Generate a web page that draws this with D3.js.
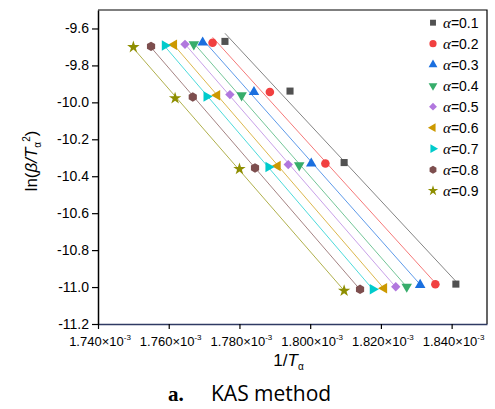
<!DOCTYPE html>
<html>
<head>
<meta charset="utf-8">
<script src="https://cdn.jsdelivr.net/npm/d3@7"></script>
<style>
  body { margin: 0; background: #fff; }
  svg { display: block; }
</style>
</head>
<body>
<svg id="chart"></svg>
<script>
// conversion degree labels and colors (Origin "Colorful" palette)
const alphas = ["0.1", "0.2", "0.3", "0.4", "0.5", "0.6", "0.7", "0.8", "0.9"];
const colors = ["#515151", "#F14040", "#1A6FDF", "#37AD6B", "#B177DE", "#CC9900", "#00CBCC", "#7D4E4E", "#8E8E00"];

// 1/T_alpha values, in units of 1e-3 (one array per alpha)
const invT01 = [1.7759, 1.7943, 1.8096, 1.8412];
const invT02 = [1.7724, 1.7886, 1.8043, 1.8354];
const invT03 = [1.7696, 1.7841, 1.8003, 1.8311];
const invT04 = [1.7671, 1.7806, 1.7969, 1.8273];
const invT05 = [1.7646, 1.7773, 1.7938, 1.8242];
const invT06 = [1.7615, 1.7737, 1.7908, 1.8209];
const invT07 = [1.7589, 1.7707, 1.7882, 1.8177];
const invT08 = [1.7550, 1.7668, 1.7844, 1.8141];
const invT09 = [1.7500, 1.7618, 1.7800, 1.8096];

// ln(beta/T_alpha^2)
const ln01 = [-9.670, -9.939, -10.326, -10.984];
const ln02 = [-9.677, -9.944, -10.331, -10.985];
const ln03 = [-9.676, -9.944, -10.331, -10.988];
const ln04 = [-9.686, -9.962, -10.341, -10.998];
const ln05 = [-9.686, -9.958, -10.337, -10.998];
const ln06 = [-9.688, -9.962, -10.344, -11.007];
const ln07 = [-9.692, -9.968, -10.350, -11.012];
const ln08 = [-9.697, -9.971, -10.355, -11.012];
const ln09 = [-9.701, -9.978, -10.361, -11.020];

const xTicks = [1.740, 1.760, 1.780, 1.800, 1.820, 1.840];
const yTicks = [-11.2, -11.0, -10.8, -10.6, -10.4, -10.2, -10.0, -9.8, -9.6];

const invTs = [invT01, invT02, invT03, invT04, invT05, invT06, invT07, invT08, invT09];
const lns = [ln01, ln02, ln03, ln04, ln05, ln06, ln07, ln08, ln09];

const width = 495, height = 409;
const margin = { top: 10, right: 8, bottom: 85, left: 98 };
const svg = d3.select("#chart").attr("width", width).attr("height", height);

const x = d3.scaleLinear().domain([1.740, 1.850]).range([margin.left, width - margin.right]);
const y = d3.scaleLinear().domain([-11.2, -9.5]).range([height - margin.bottom, margin.top]);

const font = "Liberation Sans, Arial, sans-serif";

// hexagon symbol (d3 has none)
const symbolHexagon = {
  draw(ctx, size) {
    const r = Math.sqrt(size / (1.5 * Math.sqrt(3)));
    for (let k = 0; k < 6; k++) {
      const a = Math.PI / 6 + k * Math.PI / 3;
      k === 0 ? ctx.moveTo(r * Math.cos(a), r * Math.sin(a)) : ctx.lineTo(r * Math.cos(a), r * Math.sin(a));
    }
    ctx.closePath();
  }
};
const shapes = [
  { type: d3.symbolSquare, size: 50, rot: 0 },
  { type: d3.symbolCircle, size: 58, rot: 0 },
  { type: d3.symbolTriangle, size: 48, rot: 0 },
  { type: d3.symbolTriangle, size: 48, rot: 180 },
  { type: d3.symbolSquare, size: 44, rot: 45 },
  { type: d3.symbolTriangle, size: 48, rot: -90 },
  { type: d3.symbolTriangle, size: 48, rot: 90 },
  { type: symbolHexagon, size: 58, rot: 0 },
  { type: d3.symbolStar, size: 48, rot: 0 }
];

// frame (top & right)
svg.append("path")
  .attr("d", `M${margin.left},${margin.top}H${width - margin.right}V${height - margin.bottom}`)
  .attr("fill", "none").attr("stroke", "#000").attr("stroke-width", 1.2);

// linear fit lines over each series' x range
invTs.forEach((xs, i) => {
  const ys = lns[i];
  const mx = d3.mean(xs), my = d3.mean(ys);
  const slope = d3.sum(xs, (v, k) => (v - mx) * (ys[k] - my)) / d3.sum(xs, v => (v - mx) ** 2);
  const ends = d3.extent(xs);
  svg.append("line")
    .attr("x1", x(ends[0])).attr("y1", y(my + slope * (ends[0] - mx)))
    .attr("x2", x(ends[1])).attr("y2", y(my + slope * (ends[1] - mx)))
    .attr("stroke", colors[i]).attr("stroke-opacity", 0.7).attr("stroke-width", 1);
});

// markers
invTs.forEach((xs, i) => {
  const s = shapes[i];
  svg.append("g").selectAll("path")
    .data(xs.map((v, k) => [v, lns[i][k]]))
    .join("path")
    .attr("d", d3.symbol(s.type, s.size))
    .attr("transform", d => `translate(${x(d[0])},${y(d[1])}) rotate(${s.rot})`)
    .attr("fill", colors[i]);
});

// x axis
const xAxis = svg.append("g").attr("transform", `translate(0,${height - margin.bottom})`);
xAxis.call(d3.axisBottom(x).tickValues(d3.range(1.74, 1.8501, 0.01)).tickSize(3).tickSizeOuter(0).tickFormat(""));
xAxis.call(d3.axisBottom(x).tickValues(xTicks).tickSize(5).tickSizeOuter(0).tickFormat(""));
xAxis.selectAll(".domain").attr("stroke", "#2f3a63").attr("stroke-width", 1.5);
xAxis.selectAll(".tick line").attr("stroke", "#000").attr("stroke-width", 1.2);
svg.append("g").selectAll("text").data(xTicks).join("text")
  .attr("x", d => x(d) + 2).attr("y", height - margin.bottom + 22)
  .attr("text-anchor", "middle").attr("font-family", font).attr("font-size", 13)
  .each(function (d) {
    const t = d3.select(this);
    t.append("tspan").text(d.toFixed(3) + "\u00d710");
    t.append("tspan").attr("dy", -6).attr("font-size", 8).text("-3");
  });

// y axis
const yAxis = svg.append("g").attr("transform", `translate(${margin.left},0)`);
yAxis.call(d3.axisLeft(y).tickValues(d3.range(-11.1, -9.55, 0.2)).tickSize(3).tickSizeOuter(0).tickFormat(""));
yAxis.call(d3.axisLeft(y).tickValues(yTicks).tickSize(6).tickSizeOuter(0).tickFormat(d => d.toFixed(1)));
yAxis.selectAll(".domain").attr("stroke", "#000").attr("stroke-width", 1.5);
yAxis.selectAll(".tick line").attr("stroke", "#000").attr("stroke-width", 1.2);
yAxis.selectAll(".tick text").attr("font-family", font).attr("font-size", 14).attr("fill", "#000").attr("x", -9);

// axis titles
const xt = svg.append("text")
  .attr("x", (margin.left + width - margin.right) / 2 - 4).attr("y", height - margin.bottom + 42)
  .attr("text-anchor", "middle").attr("font-family", font).attr("font-size", 17);
xt.append("tspan").text("1/");
xt.append("tspan").attr("font-style", "italic").text("T");
xt.append("tspan").attr("dy", 4).attr("font-size", 10).text("\u03b1");

const yt = svg.append("text")
  .attr("transform", `translate(37,${(margin.top + height - margin.bottom) / 2 - 6}) rotate(-90)`)
  .attr("text-anchor", "middle").attr("font-family", font).attr("font-size", 17);
yt.append("tspan").text("ln(");
yt.append("tspan").attr("font-style", "italic").text("\u03b2/T");
yt.append("tspan").attr("dy", 4).attr("font-size", 10).text("\u03b1");
yt.append("tspan").attr("dy", -11).attr("font-size", 10).text("2");
yt.append("tspan").attr("dy", 7).text(")");

// legend
const legend = svg.append("g");
alphas.forEach((a, i) => {
  const ly = 22.7 + i * 21;
  const s = shapes[i];
  legend.append("path")
    .attr("d", d3.symbol(s.type, s.size * 0.7))
    .attr("transform", `translate(433,${ly}) rotate(${s.rot})`)
    .attr("fill", colors[i]);
  const t = legend.append("text").attr("x", 443).attr("y", ly + 5)
    .attr("font-family", font).attr("font-size", 14);
  t.append("tspan").attr("font-family", "Liberation Serif, serif").attr("font-style", "italic").attr("font-size", 15).text("\u03b1");
  t.append("tspan").text("=" + a);
});

// caption
const cap = svg.append("text").attr("x", 168).attr("y", 401).attr("font-size", 21);
cap.append("tspan").attr("font-family", "Liberation Serif, serif").attr("font-weight", "bold").text("a.");
cap.append("tspan").attr("x", 211).attr("font-family", "Open Sans, sans-serif").text("KAS method");
</script>
</body>
</html>
